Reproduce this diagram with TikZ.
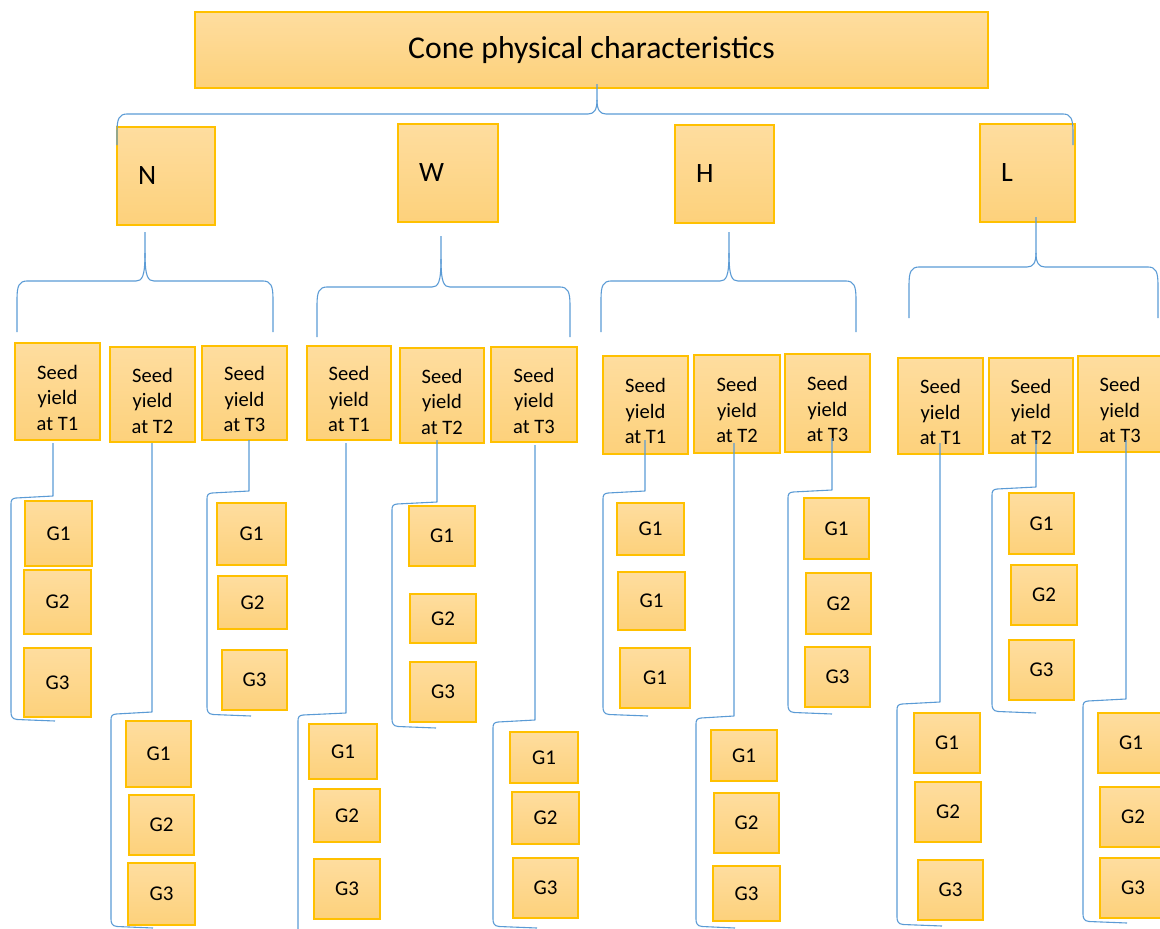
\documentclass[tikz,border=0pt]{standalone}
\usepackage{fontspec}
\setmainfont{Carlito}
\definecolor{boxtop}{HTML}{FEDD9F}
\definecolor{boxbot}{HTML}{FDD17B}
\definecolor{boxedge}{HTML}{FFC000}
\definecolor{linkblue}{HTML}{5B9BD5}
\tikzset{
  box/.style={draw=boxedge, line width=1.3pt, top color=boxtop, bottom color=boxbot,
              inner sep=0pt, align=center, text=black},
  titlebox/.style={box, font=\fontsize{31.7}{36}\selectfont},
  letterbox/.style={box, align=left, inner xsep=21pt, font=\fontsize{28}{32}\selectfont},
  seedbox/.style={box, font=\fontsize{20.5}{25.5}\selectfont},
  gbox/.style={box, font=\fontsize{21}{25}\selectfont},
  link/.style={draw=linkblue, line width=1.1pt, line join=round}
}
% box given by its corners (x1,y1) (x2,y2), y measured downwards
\newcommand\cbox[7][]{%
  \node[#1, minimum width={(#5-#3)*1pt}, minimum height={(#6-#4)*1pt}]
    (#2) at ({(#3+#5)/2},{(#4+#6)/2}) {#7};}
% three-line seed yield label, set a little below the box centre
\newcommand\seedtext[1]{\rule{0pt}{27pt}Seed\\yield\\at T#1}
% curly brace: left x, stem x, right x, stem top y, bar y, end y, cusp height
\newcommand\hbrace[7]{%
  \draw[link] (#1,#6) -- (#1,{#5+18}) .. controls (#1,{#5+5}) and ({#1+2},#5) .. ({#1+10},#5)
    -- ({#2-9},#5) .. controls ({#2-3},#5) and (#2,{#5-4}) .. (#2,{#5-#7}) -- (#2,#4);
  \draw[link] (#2,{#5-#7}) .. controls (#2,{#5-4}) and ({#2+3},#5) .. ({#2+9},#5)
    -- ({#3-10},#5) .. controls ({#3-2},#5) and (#3,{#5+5}) .. (#3,{#5+18}) -- (#3,#6);}
% stem with square bracket: stem x, stem top y, bar y, bracket x, bracket bottom y, end x
\newcommand\gbrack[6]{%
  \draw[link] (#1,#2) -- (#1,#3) -- ({#4+5},{#3+2})
    .. controls ({#4+1},{#3+2.5}) and (#4,{#3+4}) .. (#4,{#3+8}) -- (#4,{#5-6})
    .. controls (#4,{#5-2}) and ({#4+1},{#5+1}) .. ({#4+6},{#5+1.5}) -- (#6,{#5+3});}
\begin{document}
\begin{tikzpicture}[x=1pt, y=-1pt]
\path[use as bounding box] (0,0) rectangle (1160,929);
\clip (0,0) rectangle (1160,929);

% top level
\cbox[titlebox]{title}{195}{12}{988}{88}{Cone physical characteristics}
\cbox[letterbox, text width=56pt]{N}{117}{127}{215}{225}{N}
\cbox[letterbox, text width=58pt]{W}{398}{124}{498}{222}{W}
\cbox[letterbox, text width=57pt]{H}{675}{125}{774}{223}{H}
\cbox[letterbox, text width=53pt]{L}{980}{124}{1075}{222}{L}

% seed yield boxes
\cbox[seedbox]{sN1}{15}{343}{100}{440}{\seedtext{1}}
\cbox[seedbox]{sN2}{110}{347}{195}{442}{\seedtext{2}}
\cbox[seedbox]{sN3}{202}{346}{287}{440}{\seedtext{3}}
\cbox[seedbox]{sW1}{307}{346}{391}{440}{\seedtext{1}}
\cbox[seedbox]{sW2}{400}{348}{484}{443}{\seedtext{2}}
\cbox[seedbox]{sW3}{491}{347}{577}{442}{\seedtext{3}}
\cbox[seedbox]{sH1}{603}{356}{688}{454}{\seedtext{1}}
\cbox[seedbox]{sH2}{694}{355}{780}{453}{\seedtext{2}}
\cbox[seedbox]{sH3}{785}{354}{870}{452}{\seedtext{3}}
\cbox[seedbox]{sL1}{898}{358}{983}{454}{\seedtext{1}}
\cbox[seedbox]{sL2}{989}{358}{1073}{453}{\seedtext{2}}
\cbox[seedbox]{sL3}{1078}{356}{1162}{452}{\seedtext{3}}

% group boxes
\cbox[gbox]{gN1a}{25}{501}{92}{566}{G1}
\cbox[gbox]{gN1b}{24}{570}{91}{634}{G2}
\cbox[gbox]{gN1c}{24}{648}{91}{717}{G3}
\cbox[gbox]{gN2a}{126}{721}{191}{787}{G1}
\cbox[gbox]{gN2b}{129}{795}{194}{855}{G2}
\cbox[gbox]{gN2c}{128}{863}{195}{925}{G3}
\cbox[gbox]{gN3a}{217}{503}{286}{565}{G1}
\cbox[gbox]{gN3b}{218}{576}{287}{629}{G2}
\cbox[gbox]{gN3c}{222}{650}{287}{710}{G3}

\cbox[gbox]{gW1a}{309}{724}{377}{779}{G1}
\cbox[gbox]{gW1b}{314}{789}{380}{842}{G2}
\cbox[gbox]{gW1c}{314}{859}{380}{919}{G3}
\cbox[gbox]{gW2a}{409}{506}{475}{566}{G1}
\cbox[gbox]{gW2b}{410}{594}{476}{643}{G2}
\cbox[gbox]{gW2c}{410}{662}{476}{722}{G3}
\cbox[gbox]{gW3a}{510}{732}{578}{783}{G1}
\cbox[gbox]{gW3b}{512}{792}{579}{844}{G2}
\cbox[gbox]{gW3c}{513}{858}{578}{918}{G3}

\cbox[gbox]{gH1a}{617}{503}{684}{555}{G1}
\cbox[gbox]{gH1b}{618}{572}{685}{630}{G1}
\cbox[gbox]{gH1c}{620}{648}{690}{708}{G1}
\cbox[gbox]{gH2a}{711}{730}{777}{781}{G1}
\cbox[gbox]{gH2b}{714}{793}{779}{853}{G2}
\cbox[gbox]{gH2c}{713}{866}{780}{921}{G3}
\cbox[gbox]{gH3a}{804}{498}{869}{559}{G1}
\cbox[gbox]{gH3b}{806}{573}{871}{634}{G2}
\cbox[gbox]{gH3c}{805}{647}{870}{707}{G3}

\cbox[gbox]{gL1a}{914}{713}{980}{773}{G1}
\cbox[gbox]{gL1b}{915}{782}{981}{842}{G2}
\cbox[gbox]{gL1c}{918}{860}{983}{920}{G3}
\cbox[gbox]{gL2a}{1009}{493}{1074}{554}{G1}
\cbox[gbox]{gL2b}{1011}{565}{1077}{625}{G2}
\cbox[gbox]{gL2c}{1009}{640}{1074}{700}{G3}
\cbox[gbox]{gL3a}{1098}{713}{1164}{773}{G1}
\cbox[gbox]{gL3b}{1100}{787}{1166}{847}{G2}
\cbox[gbox]{gL3c}{1100}{858}{1166}{918}{G3}

% braces
\hbrace{117}{597}{1073}{84}{114}{145}{14}
\hbrace{17}{145}{273}{232}{281}{332}{28}
\hbrace{317}{441}{570}{236}{287}{337}{28}
\hbrace{601}{729}{856}{232}{281}{332}{28}
\hbrace{909}{1036}{1158}{217}{267}{318}{14}

% stems and brackets
\gbrack{53}{443}{496}{11}{718}{55}
\gbrack{152}{443}{712}{111}{925}{153}
\gbrack{249}{440}{491}{207}{713}{251}
\gbrack{346}{443}{713}{298}{940}{346}
\gbrack{437}{440}{502}{392}{725}{436}
\gbrack{535}{445}{720}{493}{925}{537}
\gbrack{645}{440}{491}{603}{713}{648}
\gbrack{734}{443}{716}{696}{925}{735}
\gbrack{832}{438}{490}{788}{711}{832}
\gbrack{940}{443}{702}{897}{923}{942}
\gbrack{1036}{440}{487}{992}{710}{1036}
\gbrack{1126}{440}{699}{1083}{920}{1127}
\end{tikzpicture}
\end{document}
